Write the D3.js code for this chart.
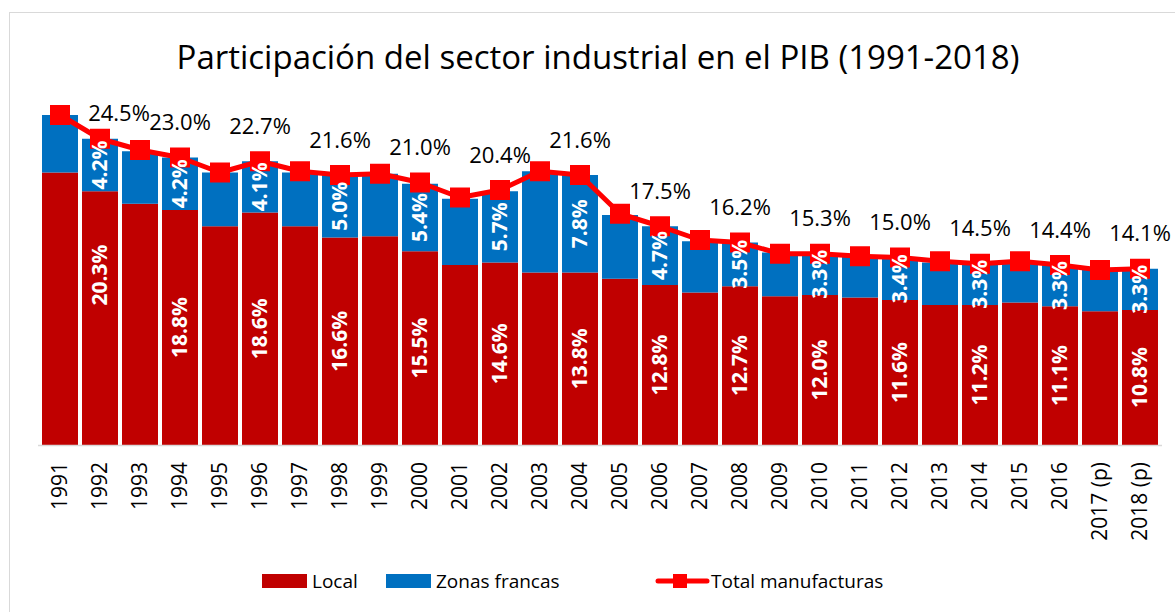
<!DOCTYPE html>
<html>
<head>
<meta charset="utf-8">
<script src="https://cdn.jsdelivr.net/npm/d3@7"></script>
<style>
  body { margin: 0; background: #fff; }
  svg { font-family: "Open Sans", sans-serif; }
</style>
</head>
<body>
<div class="chart_area"></div>
<script>
// data
var years = ["1991", "1992", "1993", "1994", "1995", "1996", "1997", "1998", "1999", "2000",
    "2001", "2002", "2003", "2004", "2005", "2006", "2007", "2008", "2009", "2010",
    "2011", "2012", "2013", "2014", "2015", "2016", "2017 (p)", "2018 (p)"];
var local = [21.8, 20.3, 19.3, 18.8, 17.5, 18.6, 17.5, 16.6, 16.7, 15.5,
    14.4, 14.6, 13.8, 13.8, 13.3, 12.8, 12.2, 12.7, 11.9, 12.0,
    11.8, 11.6, 11.2, 11.2, 11.4, 11.1, 10.7, 10.8];
var zonasFrancas = [4.6, 4.2, 4.2, 4.2, 4.3, 4.1, 4.3, 5.0, 5.0, 5.4,
    5.3, 5.7, 8.1, 7.8, 5.1, 4.7, 4.1, 3.5, 3.5, 3.3,
    3.3, 3.4, 3.4, 3.3, 3.3, 3.3, 3.3, 3.3];
var total = [26.4, 24.5, 23.6, 23.0, 21.8, 22.7, 21.9, 21.6, 21.7, 21.0,
    19.8, 20.4, 21.9, 21.6, 18.5, 17.5, 16.4, 16.2, 15.3, 15.3,
    15.1, 15.0, 14.7, 14.5, 14.7, 14.4, 14.0, 14.1];
// labels are shown only every second year (1992, 1994, ...)
var labelled = function (i) { return i % 2 == 1; };

var colLocal = "#C00000",
    colZF = "#0070C0",
    colTotal = "#FF0000";

var width = 1175, height = 612;

var svg = d3.select(".chart_area")
    .append("svg")
    .attr("width", width)
    .attr("height", height);

// chart area border
svg.append("rect")
    .attr("x", 9.5).attr("y", 12.5)
    .attr("width", width - 9).attr("height", height - 8)
    .attr("fill", "none")
    .attr("stroke", "#D9D9D9");

svg.append("text")
    .attr("x", 598)
    .attr("y", 69)
    .attr("text-anchor", "middle")
    .style("font-size", "33px")
    .style("fill", "#000")
    .text("Participación del sector industrial en el PIB (1991-2018)");

var x = d3.scaleBand()
    .domain(years)
    .range([40, 1160])
    .paddingInner(0.1)
    .paddingOuter(0.05);

var y = d3.scaleLinear()
    .domain([0, 28])
    .range([445, 95]);

var rows = years.map(function (yr, i) {
    return { year: yr, i: i, local: local[i], zf: zonasFrancas[i], total: total[i] };
});

// bars
svg.selectAll(".bar_local")
    .data(rows)
    .enter()
    .append("rect")
    .attr("class", "bar_local")
    .attr("x", function (d) { return x(d.year); })
    .attr("y", function (d) { return y(d.local); })
    .attr("width", x.bandwidth())
    .attr("height", function (d) { return y(0) - y(d.local); })
    .attr("fill", colLocal);

svg.selectAll(".bar_zf")
    .data(rows)
    .enter()
    .append("rect")
    .attr("class", "bar_zf")
    .attr("x", function (d) { return x(d.year); })
    .attr("y", function (d) { return y(d.local + d.zf); })
    .attr("width", x.bandwidth())
    .attr("height", function (d) { return y(d.local) - y(d.local + d.zf); })
    .attr("fill", colZF);

// x axis
var xAxis = svg.append("g")
    .attr("class", "x-axis")
    .attr("transform", "translate(0," + y(0) + ")")
    .call(d3.axisBottom(x).tickSize(0).tickPadding(0));

xAxis.select(".domain")
    .attr("d", "M38,0.5H1162")
    .style("stroke", "#D9D9D9")
    .style("stroke-width", 1.5);

xAxis.selectAll("text")
    .attr("transform", "translate(0,17) rotate(-90)")
    .attr("x", 0)
    .attr("y", 0)
    .attr("dy", "0.35em")
    .style("text-anchor", "end")
    .style("fill", "#000")
    .style("font-size", "21px")
    .style("font-family", "'Open Sans', sans-serif");

// total line
var cx = function (d) { return x(d.year) + x.bandwidth() / 2; };

var line = d3.line()
    .x(function (d) { return cx(d); })
    .y(function (d) { return y(d.total); });

svg.append("path")
    .datum(rows)
    .attr("d", line)
    .attr("fill", "none")
    .attr("stroke", colTotal)
    .attr("stroke-width", 5)
    .attr("stroke-linejoin", "round");

var mk = 20;
svg.selectAll(".marker")
    .data(rows)
    .enter()
    .append("rect")
    .attr("class", "marker")
    .attr("x", function (d) { return cx(d) - mk / 2; })
    .attr("y", function (d) { return y(d.total) - mk / 2; })
    .attr("width", mk)
    .attr("height", mk)
    .attr("fill", colTotal);

// white labels inside the bars (drawn over the line)
var nudgeLocal = { "1992": -43 };

svg.selectAll(".lab_local")
    .data(rows.filter(function (d) { return labelled(d.i); }))
    .enter()
    .append("text")
    .attr("class", "lab_local")
    .attr("transform", function (d) {
        var cy = (y(0) + y(d.local)) / 2 + (nudgeLocal[d.year] || 0);
        return "translate(" + cx(d) + "," + cy + ") rotate(-90)";
    })
    .attr("dy", "0.35em")
    .style("text-anchor", "middle")
    .style("fill", "#fff")
    .style("font-weight", "bold")
    .style("font-size", "21px")
    .text(function (d) { return d.local.toFixed(1) + "%"; });

svg.selectAll(".lab_zf")
    .data(rows.filter(function (d) { return labelled(d.i); }))
    .enter()
    .append("text")
    .attr("class", "lab_zf")
    .attr("transform", function (d) {
        var cy = (y(d.local) + y(d.local + d.zf)) / 2;
        return "translate(" + cx(d) + "," + cy + ") rotate(-90)";
    })
    .attr("dy", "0.35em")
    .style("text-anchor", "middle")
    .style("fill", "#fff")
    .style("font-weight", "bold")
    .style("font-size", "21px")
    .text(function (d) { return d.zf.toFixed(1) + "%"; });

var nudgeTotal = { "1992": [19, 10] };
svg.selectAll(".lab_total")
    .data(rows.filter(function (d) { return labelled(d.i); }))
    .enter()
    .append("text")
    .attr("class", "lab_total")
    .attr("x", function (d) { return cx(d) + (nudgeTotal[d.year] ? nudgeTotal[d.year][0] : 0); })
    .attr("y", function (d) { return y(d.total) - 35 + (nudgeTotal[d.year] ? nudgeTotal[d.year][1] : 0); })
    .attr("dy", "0.35em")
    .style("text-anchor", "middle")
    .style("fill", "#000")
    .style("font-size", "22px")
    .text(function (d) { return d.total.toFixed(1) + "%"; });

// legend
var legend = svg.append("g").attr("class", "legend");
var lgY = 581;

legend.append("rect")
    .attr("x", 262).attr("y", lgY - 7)
    .attr("width", 45).attr("height", 14)
    .attr("fill", colLocal);
legend.append("text")
    .attr("x", 312).attr("y", lgY)
    .attr("dy", "0.35em")
    .style("font-size", "19px")
    .text("Local");

legend.append("rect")
    .attr("x", 386).attr("y", lgY - 7)
    .attr("width", 45).attr("height", 14)
    .attr("fill", colZF);
legend.append("text")
    .attr("x", 436).attr("y", lgY)
    .attr("dy", "0.35em")
    .style("font-size", "19px")
    .text("Zonas francas");

legend.append("line")
    .attr("x1", 658).attr("x2", 707)
    .attr("y1", lgY).attr("y2", lgY)
    .attr("stroke", colTotal)
    .attr("stroke-width", 5)
    .attr("stroke-linecap", "round");
legend.append("rect")
    .attr("x", 680 - 7).attr("y", lgY - 7)
    .attr("width", 14).attr("height", 14)
    .attr("fill", colTotal);
legend.append("text")
    .attr("x", 711).attr("y", lgY)
    .attr("dy", "0.35em")
    .style("font-size", "19px")
    .text("Total manufacturas");
</script>
</body>
</html>
